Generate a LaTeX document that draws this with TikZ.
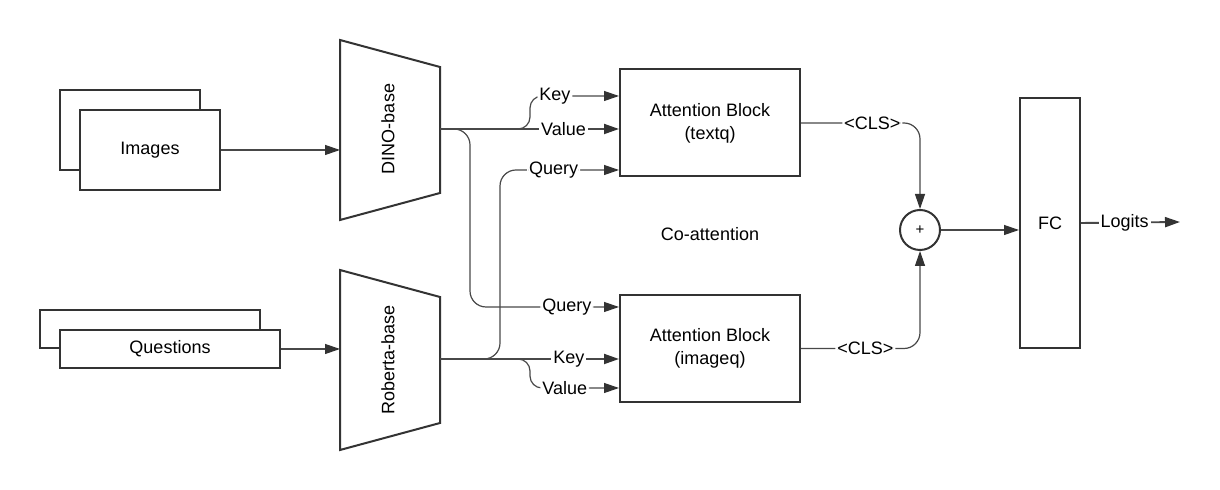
\documentclass[tikz,border=0pt]{standalone}
\usepackage{fontspec}
\setmainfont{Liberation Sans}
\usetikzlibrary{arrows.meta}
\definecolor{linegray}{HTML}{333333}
\definecolor{conngray}{HTML}{484848}
\tikzset{
  box/.style={draw=linegray, line width=1pt, fill=white},
  conn/.style={draw=conngray, line width=0.6pt, -{Triangle[length=7.5pt,width=5pt,color=linegray]}},
  lbl/.style={fill=white, inner sep=1pt},
}

\begin{document}
\begin{tikzpicture}[x=0.5pt, y=-0.5pt, font=\fontsize{9}{11.5}\selectfont]
\useasboundingbox (0,0) rectangle (1220,490);

% Inputs
\draw[box] (60,90) rectangle (200,170);
\node[box, minimum width=70pt, minimum height=40pt] (images) at (150,150) {Images};
\draw[box] (40,310) rectangle (260,348);
\node[box, minimum width=110pt, minimum height=19pt] (questions) at (170,349) {Questions};

% Encoders
\draw[box] (340,40) -- (440,67) -- (440,193) -- (340,220) -- cycle;
\node[rotate=90] (dino) at (388,129) {DINO-base};
\draw[box] (340,270) -- (440,297) -- (440,423) -- (340,450) -- cycle;
\node[rotate=90] (roberta) at (388,360) {Roberta-base};
\coordinate (dinoin) at (340,150);
\coordinate (robin) at (340,349);
\coordinate (dinoout) at (440,129);
\coordinate (robout) at (440,359);
\draw[conn] (images.east) -- (dinoin);
\draw[conn] (questions.east) -- (robin);

% Attention blocks
\node[box, minimum width=90pt, minimum height=53.5pt, align=center] (attT) at (710,123) {Attention Block\\(textq)};
\node[box, minimum width=90pt, minimum height=53.5pt, align=center] (attI) at (710,348.5) {Attention Block\\(imageq)};
\node (coatt) at (710,234) {Co-attention};

% DINO features
\draw[conn, rounded corners=8] (460,129) -| (470,307) -- node[lbl, pos=0.65] {Query} (attI.west |- 0,307);
\draw[conn, rounded corners=6] (520,129) -| (530,96) -- node[lbl, pos=0.28] {Key} (attT.west |- 0,96);
\draw[conn, line width=0.95pt] (dinoout) -- node[lbl, pos=0.69] {Value} (dinoout -| attT.west);

% Roberta features
\draw[conn, rounded corners=8] (487,359) -| (500,170) -- node[lbl, pos=0.45] {Query} (attT.west |- 0,170);
\draw[conn, rounded corners=6] (520,359) -| (530,388) -- node[lbl, pos=0.39] {Value} (attI.west |- 0,388);
\draw[conn, line width=0.95pt] (robout) -- node[lbl, pos=0.72] {Key} (robout -| attI.west);

% Fusion
\node[draw=linegray, line width=1pt, circle, minimum size=20pt, inner sep=0pt, font=\fontsize{7.5}{8}\selectfont] (plus) at (920,230) {+};
\draw[conn, rounded corners=8] (attT.east) -- node[lbl, pos=0.6] {<CLS>} (attT.east -| plus) -- (plus.north);
\draw[conn, rounded corners=8] (attI.east) -- node[lbl, pos=0.54] {<CLS>} (attI.east -| plus) -- (plus.south);

% Classifier
\node[box, minimum width=30pt, minimum height=125pt] (fc) at (1050,223) {FC};
\coordinate (logits) at (1180,222);
\draw[conn] (plus.east) -- (plus.east -| fc.west);
\draw[conn, line width=0.95pt] (fc.east) -- node[lbl, pos=0.44] {Logits} (logits);
\end{tikzpicture}
\end{document}
